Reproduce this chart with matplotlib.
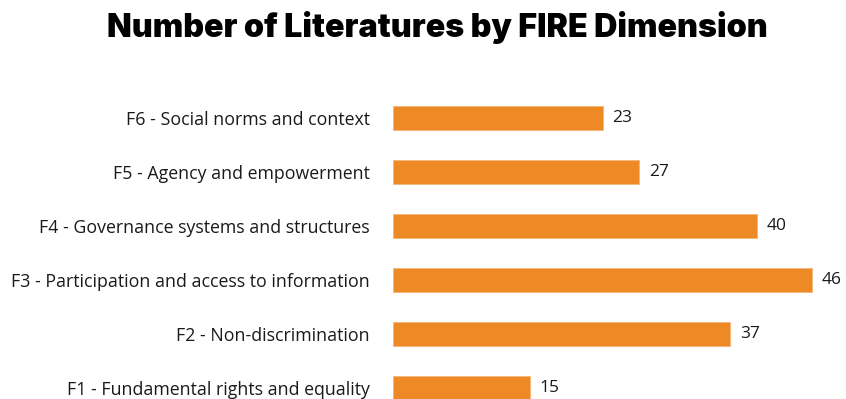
import matplotlib.pyplot as plt

# FIRE dimensions, bottom to top
dimensions = [
    "F1 - Fundamental rights and equality",
    "F2 - Non-discrimination",
    "F3 - Participation and access to information",
    "F4 - Governance systems and structures",
    "F5 - Agency and empowerment",
    "F6 - Social norms and context",
]
counts = [15, 37, 46, 40, 27, 23]

bar_color = "#EE8A25"
plt.rcParams["font.family"] = ["Open Sans", "DejaVu Sans"]

W, H = 846, 399
fig = plt.figure(figsize=(W / 100, H / 100), dpi=100)
ax = fig.add_axes([393 / W, 0, 1 - 393 / W, 309 / H])

ypos = list(range(len(dimensions)))
ax.barh(ypos, counts, height=0.46, color=bar_color, edgecolor="#F3B57A", linewidth=0.6)

ax.set_xlim(0, max(counts) * 453 / 419)
ax.set_ylim(-0.204, 5.52)

for y, v in zip(ypos, counts):
    ax.annotate(str(v), (v, y), xytext=(7, 0), textcoords="offset points",
                va="center", ha="left", fontsize=12.5, color="#1a1a1a")

ax.set_yticks(ypos)
ax.set_yticklabels(dimensions, fontsize=12.8, color="#1a1a1a")
ax.tick_params(axis="y", length=0, pad=16.5)
ax.set_xticks([])
for s in ax.spines.values():
    s.set_visible(False)

fig.text(0.517, 0.93, "Number of Literatures by FIRE Dimension", ha="center", va="center",
         fontsize=23.2, fontweight=900, family=["Inter", "DejaVu Sans"], color="black")

fig.savefig("out.png", dpi=100)
